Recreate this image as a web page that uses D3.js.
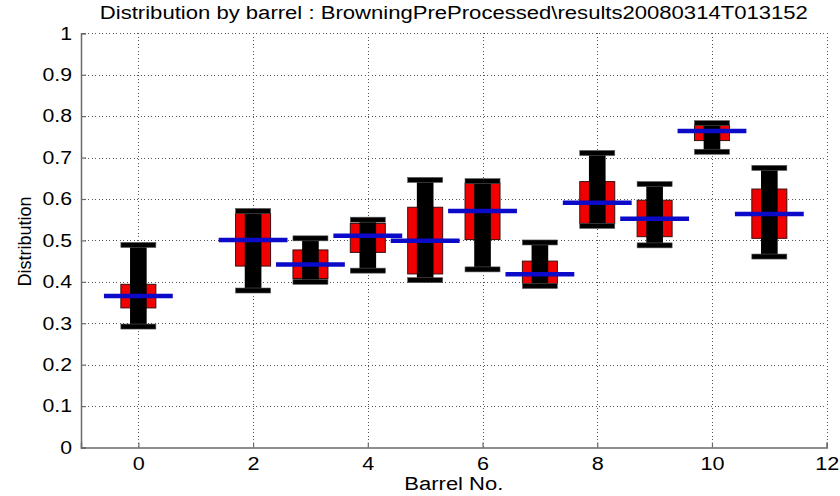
<!DOCTYPE html>
<html>
<head>
<meta charset="utf-8">
<script src="https://cdn.jsdelivr.net/npm/d3@7"></script>
<style>
  html, body { margin: 0; padding: 0; background: #fff; }
  svg { display: block; }
  text { font-family: "Liberation Sans", Arial, sans-serif; fill: #000; }
</style>
</head>
<body>
<svg id="chart" width="840" height="496"></svg>
<script>
// Per-barrel distribution summary
const barrels     = [0, 2, 3, 4, 5, 6, 7, 8, 9, 10, 11];
const whiskerLow  = [0.292, 0.379, 0.400, 0.427, 0.404, 0.430, 0.390, 0.535, 0.488, 0.714, 0.461];
const q1          = [0.337, 0.438, 0.408, 0.471, 0.419, 0.502, 0.396, 0.541, 0.509, 0.741, 0.505];
const medians     = [0.366, 0.501, 0.442, 0.511, 0.499, 0.571, 0.418, 0.591, 0.552, 0.764, 0.564];
const q3          = [0.394, 0.565, 0.477, 0.541, 0.580, 0.638, 0.450, 0.642, 0.597, 0.779, 0.624];
const whiskerHigh = [0.489, 0.571, 0.505, 0.550, 0.646, 0.643, 0.495, 0.711, 0.636, 0.783, 0.675];

const xTicks = [0, 2, 4, 6, 8, 10, 12];
const yTicks = [0, 0.1, 0.2, 0.3, 0.4, 0.5, 0.6, 0.7, 0.8, 0.9, 1];

const titleText = "Distribution by barrel : BrowningPreProcessed\\results20080314T013152";
const xLabel = "Barrel No.";
const yLabel = "Distribution";

const rows = barrels.map((b, i) => ({
  barrel: b, lo: whiskerLow[i], q1: q1[i], med: medians[i], q3: q3[i], hi: whiskerHigh[i]
}));

const svg = d3.select("#chart");
const plotLeft = 81, plotRight = 826.7, plotTop = 33.3, plotBottom = 447.5;

const x = d3.scaleLinear().domain([-1, 12]).range([plotLeft, plotRight]);
const y = d3.scaleLinear().domain([0, 1]).range([plotBottom, plotTop]);

// Widths in barrel units
const boxHalf = 0.305, barHalf = 0.145, medHalf = 0.6;
const capThick = 5;

// Widen glyphs horizontally (the figure uses a wide sans face)
function widen(sel, factor) {
  sel.each(function () {
    const w = this.getComputedTextLength();
    d3.select(this).attr("textLength", w * factor).attr("lengthAdjust", "spacingAndGlyphs");
  });
}

// Dotted grid
const grid = svg.append("g").attr("stroke", "#555").attr("stroke-width", 1)
  .attr("stroke-dasharray", "1,2.5").attr("shape-rendering", "crispEdges");
grid.selectAll("line.gy").data(yTicks.filter(t => t > 0)).join("line").attr("class", "gy")
  .attr("x1", plotLeft).attr("x2", plotRight)
  .attr("y1", d => Math.round(y(d)) + 0.5).attr("y2", d => Math.round(y(d)) + 0.5);
grid.selectAll("line.gx").data(xTicks).join("line").attr("class", "gx")
  .attr("x1", d => Math.round(x(d)) + 0.5).attr("x2", d => Math.round(x(d)) + 0.5)
  .attr("y1", plotTop).attr("y2", plotBottom);

// Axes with inward ticks
const xAxis = d3.axisBottom(x).tickValues(xTicks).tickSize(-5).tickPadding(10)
  .tickFormat(d3.format("d"));
const yAxis = d3.axisLeft(y).tickValues(yTicks).tickSize(-5).tickPadding(9)
  .tickFormat(d => d === 0 || d === 1 ? String(d) : d3.format(".1f")(d));

const gx = svg.append("g").attr("transform", `translate(0,${plotBottom})`).call(xAxis);
const gy = svg.append("g").attr("transform", `translate(${plotLeft},0)`).call(yAxis);
[gx, gy].forEach(g => {
  g.select(".domain").attr("stroke", "#6a6a6a").attr("stroke-width", 1.5);
  g.selectAll(".tick line").attr("stroke", "#6a6a6a").attr("stroke-width", 1.2);
  g.selectAll(".tick text").attr("font-size", 18).attr("fill", "#000")
    .style("font-family", "'Liberation Sans', Arial, sans-serif");
});
gx.selectAll(".tick text").attr("dy", "0.72em");
widen(gx.selectAll(".tick text"), 1.2);
widen(gy.selectAll(".tick text"), 1.18);

// Boxes
const boxes = svg.append("g").selectAll("g").data(rows).join("g");

boxes.append("rect")
  .attr("x", d => x(d.barrel - boxHalf))
  .attr("width", d => x(d.barrel + boxHalf) - x(d.barrel - boxHalf))
  .attr("y", d => y(d.q3))
  .attr("height", d => y(d.q1) - y(d.q3))
  .attr("fill", "#f00000").attr("stroke", "#3a1010").attr("stroke-width", 1);

boxes.append("rect")
  .attr("x", d => x(d.barrel - barHalf))
  .attr("width", d => x(d.barrel + barHalf) - x(d.barrel - barHalf))
  .attr("y", d => y(d.hi))
  .attr("height", d => y(d.lo) - y(d.hi))
  .attr("fill", "#000");

boxes.selectAll("rect.cap").data(d => [
    { b: d.barrel, v: d.hi }, { b: d.barrel, v: d.lo }
  ]).join("rect").attr("class", "cap")
  .attr("x", d => x(d.b - boxHalf))
  .attr("width", d => x(d.b + boxHalf) - x(d.b - boxHalf))
  .attr("y", d => y(d.v) - capThick / 2)
  .attr("height", capThick)
  .attr("fill", "#000").attr("stroke", "#555").attr("stroke-width", 0.6);

boxes.append("line")
  .attr("x1", d => x(d.barrel - medHalf)).attr("x2", d => x(d.barrel + medHalf))
  .attr("y1", d => y(d.med)).attr("y2", d => y(d.med))
  .attr("stroke", "#0a0ac8").attr("stroke-width", 4.5);

// Titles
svg.append("text").attr("x", (plotLeft + plotRight) / 2).attr("y", 19)
  .attr("text-anchor", "middle").attr("font-size", 18)
  .attr("textLength", 708).attr("lengthAdjust", "spacingAndGlyphs").text(titleText);
svg.append("text").attr("x", (plotLeft + plotRight) / 2).attr("y", 490)
  .attr("text-anchor", "middle").attr("font-size", 18)
  .attr("textLength", 99).attr("lengthAdjust", "spacingAndGlyphs").text(xLabel);
svg.append("text").attr("transform", `translate(31,${(plotTop + plotBottom) / 2 + 1}) rotate(-90)`)
  .attr("text-anchor", "middle").attr("font-size", 17.5)
  .attr("textLength", 90).attr("lengthAdjust", "spacingAndGlyphs").text(yLabel);
</script>
</body>
</html>
